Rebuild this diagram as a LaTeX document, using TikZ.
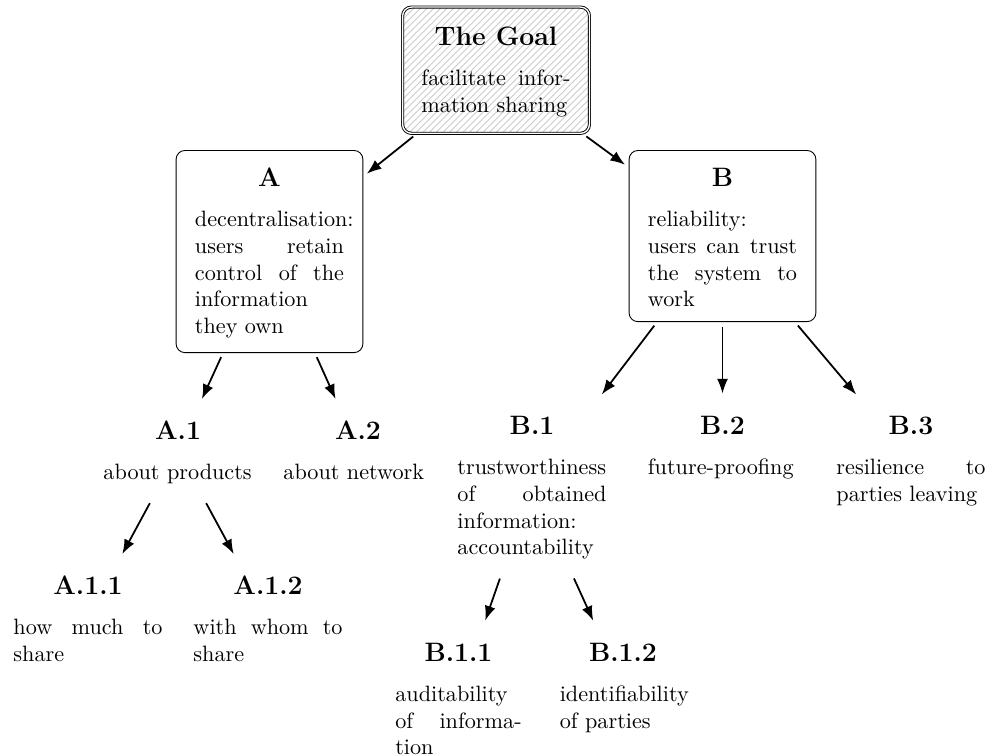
\documentclass[tikz,border=0pt]{standalone}
\usepackage{amsmath, amsfonts}
\usepackage{tikz}
\usetikzlibrary{arrows.meta, patterns}

\newcommand{\goaltitle}[1]{{\centering\large\bfseries #1\strut\par}\medskip\noindent}

\begin{document}
\begin{tikzpicture}[
    every node/.append style = {anchor=north, text width=2.36cm,
      inner xsep=8.5pt, inner ysep=6.6pt, align=justify},
    goalbox/.style = {draw, double, rounded corners, inner ysep=7.5pt,
      pattern=north east lines, pattern color=black!20},
    subgoal/.style = {draw, rounded corners},
    narrow/.style = {text width=2cm},
    link/.style = {-Latex, thick, shorten <=2pt, shorten >=2pt}
  ]
  \useasboundingbox (0,0) rectangle (15.656,-11.952);

  % the goal and its two sub-goals
  \node[goalbox] (goal) at (7.852,-0.105)
    {\goaltitle{The Goal}facilitate information sharing};
  \node[subgoal] (a) at (4.266,-2.375)
    {\goaltitle{A}decentralisation: users retain control of the information they own};
  \node[subgoal] (b) at (11.437,-2.375)
    {\goaltitle{B}reliability: users can trust the system to work};

  % level 2
  \node (a1) at (2.818,-6.380) {\goaltitle{A.1}about products};
  \node (a2) at (5.667,-6.380) {\goaltitle{A.2}about network};
  \node (b1) at (8.422,-6.300)
    {\goaltitle{B.1}trustworthiness of obtained information: accountability};
  \node (b2) at (11.437,-6.300) {\goaltitle{B.2}future-proofing};
  \node (b3) at (14.421,-6.300) {\goaltitle{B.3}resilience to parties leaving};

  % level 3
  \node (a11) at (1.393,-8.833) {\goaltitle{A.1.1}how much to share};
  \node (a12) at (4.243,-8.833) {\goaltitle{A.1.2}with whom to share};
  \node[narrow] (b11) at (7.258,-9.89) {\goaltitle{B.1.1}auditability of information};
  \node[narrow] (b12) at (9.862,-9.89) {\goaltitle{B.1.2}identifiability of parties};

  \draw[link] (goal) -- (a);
  \draw[link] (goal) -- (b);
  \draw[link] (a) -- (a1);
  \draw[link] (a) -- (a2);
  \draw[link] (b) -- (b1);
  \draw[link] (b) -- (b2);
  \draw[link] (b) -- (b3);
  \draw[link] (a1) -- (a11);
  \draw[link] (a1) -- (a12);
  \draw[link] (b1) -- (b11);
  \draw[link] (b1) -- (b12);
\end{tikzpicture}
\end{document}
